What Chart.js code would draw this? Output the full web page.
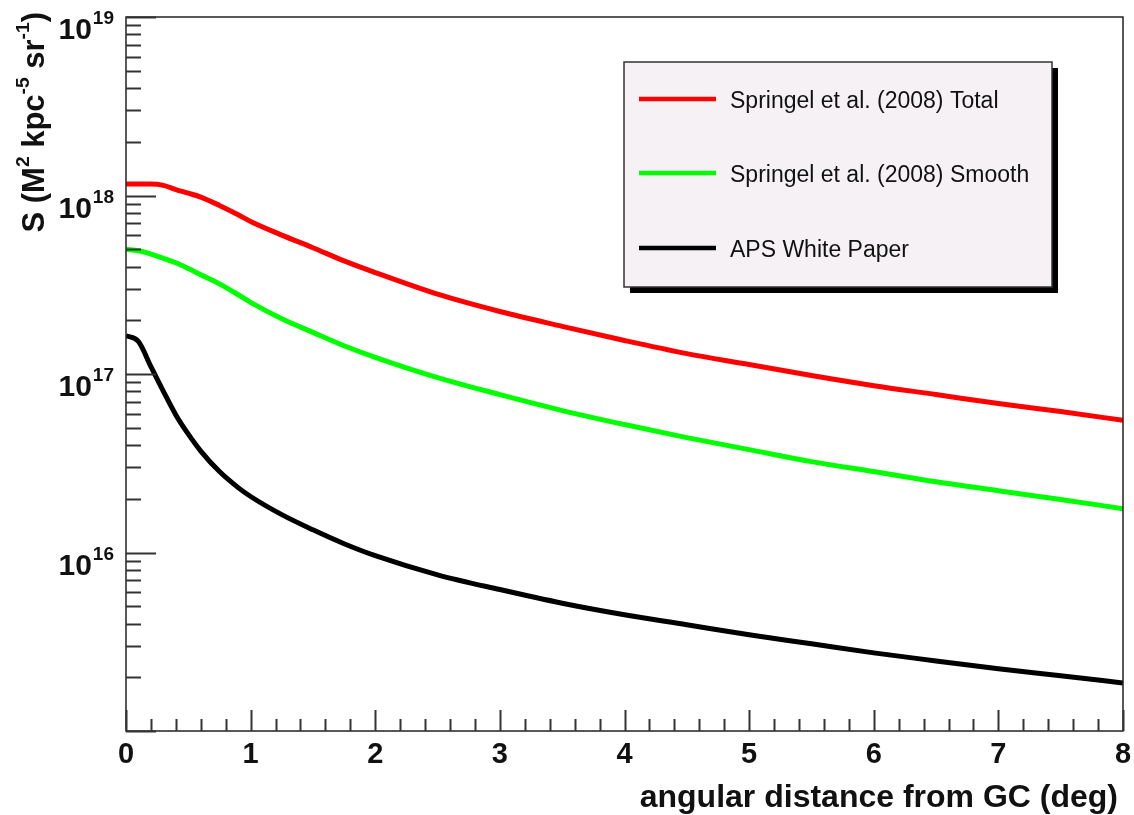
<!DOCTYPE html>
<html>
<head>
<meta charset="utf-8">
<script src="https://cdn.jsdelivr.net/npm/chart.js@4.4.1/dist/chart.umd.min.js"></script>
<style>
  html, body { margin: 0; padding: 0; background: #fff; }
  canvas { display: block; }
</style>
</head>
<body>
<canvas id="jfactor" width="1134" height="815"></canvas>
<script>
// angular distance from GC (deg)
const angle = [0, 0.1, 0.2, 0.3, 0.4, 0.5, 0.6, 0.75, 0.9, 1.0, 1.25, 1.5, 1.75, 2.0, 2.5, 3.0, 3.5, 4.0, 4.5, 5.0, 5.5, 6.0, 6.5, 7.0, 7.5, 8.0];

const springelTotal = [1.16e18, 1.16e18, 1.16e18, 1.14e18, 1.08e18, 1.03e18, 9.8e17, 8.8e17, 7.8e17, 7.15e17, 6.0e17, 5.1e17, 4.3e17, 3.7e17, 2.8e17, 2.24e17, 1.85e17, 1.54e17, 1.30e17, 1.13e17, 9.8e16, 8.6e16, 7.67e16, 6.83e16, 6.16e16, 5.5e16];
const springelSmooth = [5.0e17, 4.9e17, 4.7e17, 4.45e17, 4.2e17, 3.9e17, 3.6e17, 3.2e17, 2.78e17, 2.52e17, 2.04e17, 1.71e17, 1.44e17, 1.24e17, 9.55e16, 7.67e16, 6.24e16, 5.21e16, 4.40e16, 3.77e16, 3.23e16, 2.84e16, 2.49e16, 2.22e16, 1.98e16, 1.76e16];
const apsWhitePaper = [1.64e17, 1.52e17, 1.1e17, 8.0e16, 5.9e16, 4.6e16, 3.7e16, 2.84e16, 2.31e16, 2.06e16, 1.63e16, 1.34e16, 1.12e16, 9.6e15, 7.5e15, 6.2e15, 5.2e15, 4.48e15, 3.94e15, 3.46e15, 3.08e15, 2.74e15, 2.47e15, 2.23e15, 2.04e15, 1.86e15];

const xMajorTicks = [0, 1, 2, 3, 4, 5, 6, 7, 8];
const yDecades = [15, 16, 17, 18, 19];

const xTitle = 'angular distance from GC (deg)';
const FONT = '"Liberation Sans", Arial, Helvetica, sans-serif';

function toPoints(ys) {
    return angle.map((a, i) => ({ x: a, y: ys[i] }));
}

// draws text pieces, some of them as superscripts
function drawRich(ctx, parts, x, y, size) {
    let cx = x;
    parts.forEach(p => {
        let s = p.sup ? size * 0.62 : size;
        ctx.font = 'bold ' + s + 'px ' + FONT;
        ctx.fillText(p.t, cx, p.sup ? y - size * 0.5 : y);
        cx += ctx.measureText(p.t).width;
    });
    return cx - x;
}

function richWidth(ctx, parts, size) {
    let w = 0;
    parts.forEach(p => {
        let s = p.sup ? size * 0.62 : size;
        ctx.font = 'bold ' + s + 'px ' + FONT;
        w += ctx.measureText(p.t).width;
    });
    return w;
}

const rootFrame = {
    id: 'rootFrame',
    afterDatasetsDraw(chart) {
        const ctx = chart.ctx;
        const area = chart.chartArea;
        const xs = chart.scales.x;
        const ys = chart.scales.y;
        ctx.save();

        // frame
        ctx.strokeStyle = '#222';
        ctx.lineWidth = 1.5;
        ctx.strokeRect(area.left, area.top, area.right - area.left, area.bottom - area.top);

        // x ticks (inside)
        ctx.lineWidth = 2;
        ctx.strokeStyle = '#333';
        for (let v = 0; v <= 8.001; v += 0.2) {
            let px = Math.round(xs.getPixelForValue(v)) + 0.5;
            let major = Math.abs(v - Math.round(v)) < 0.01;
            ctx.beginPath();
            ctx.moveTo(px, area.bottom);
            ctx.lineTo(px, area.bottom - (major ? 21 : 12));
            ctx.stroke();
        }
        // y ticks (inside)
        yDecades.forEach(e => {
            for (let m = 1; m <= 9; m++) {
                let val = m * Math.pow(10, e);
                if (val > 1e19 * 1.0001) break;
                let py = Math.round(ys.getPixelForValue(val)) + 0.5;
                ctx.beginPath();
                ctx.moveTo(area.left, py);
                ctx.lineTo(area.left + (m == 1 ? 30 : 15), py);
                ctx.stroke();
            }
        });

        ctx.fillStyle = '#111';
        ctx.textBaseline = 'alphabetic';

        // x labels
        ctx.textAlign = 'center';
        ctx.font = 'bold 29px ' + FONT;
        xMajorTicks.forEach(v => {
            ctx.fillText(String(v), xs.getPixelForValue(v), area.bottom + 32);
        });

        // x title
        ctx.textAlign = 'right';
        ctx.font = 'bold 32px ' + FONT;
        ctx.fillText(xTitle, area.right - 5, area.bottom + 76);

        // y labels 10^n
        ctx.textAlign = 'left';
        yDecades.slice(1).forEach(e => {
            let py = ys.getPixelForValue(Math.pow(10, e));
            ctx.font = 'bold 30px ' + FONT;
            let w1 = ctx.measureText('10').width;
            ctx.font = 'bold 19px ' + FONT;
            let w2 = ctx.measureText(String(e)).width;
            let x0 = area.left - 13 - w1 - w2;
            ctx.font = 'bold 30px ' + FONT;
            ctx.fillText('10', x0, py + 22);
            ctx.font = 'bold 19px ' + FONT;
            ctx.fillText(String(e), x0 + w1 + 1, py + 7);
        });

        // y title
        const yParts = [
            { t: 'S (M' }, { t: '2', sup: true }, { t: ' kpc' }, { t: '-5', sup: true },
            { t: ' sr' }, { t: '-1', sup: true }, { t: ')' }
        ];
        ctx.save();
        ctx.translate(44, area.top - 5);
        ctx.rotate(-Math.PI / 2);
        let tw = richWidth(ctx, yParts, 31);
        drawRich(ctx, yParts, -tw, 0, 31);
        ctx.restore();

        // legend box with shadow
        let bx = 624, by = 62, bw = 428, bh = 225;
        ctx.fillStyle = '#000';
        ctx.fillRect(bx + 6, by + 6, bw, bh);
        ctx.fillStyle = '#f5f1f4';
        ctx.fillRect(bx, by, bw, bh);
        ctx.strokeStyle = '#333';
        ctx.lineWidth = 1.5;
        ctx.strokeRect(bx, by, bw, bh);

        const rowY = [99, 173, 248];
        chart.data.datasets.forEach((ds, i) => {
            ctx.strokeStyle = ds.borderColor;
            ctx.lineWidth = 4.5;
            ctx.beginPath();
            ctx.moveTo(639, rowY[i]);
            ctx.lineTo(716, rowY[i]);
            ctx.stroke();
            ctx.fillStyle = '#111';
            ctx.textAlign = 'left';
            ctx.textBaseline = 'middle';
            ctx.font = '23px ' + FONT;
            ctx.fillText(ds.label, 730, rowY[i] + 3);
        });

        ctx.restore();
    }
};

const ctx = document.getElementById('jfactor').getContext('2d');
const chart = new Chart(ctx, {
    type: 'line',
    data: {
        datasets: [{
            label: 'Springel et al. (2008) Total',
            data: toPoints(springelTotal),
            borderColor: '#ff0000',
        }, {
            label: 'Springel et al. (2008) Smooth',
            data: toPoints(springelSmooth),
            borderColor: '#00ff00',
        }, {
            label: 'APS White Paper',
            data: toPoints(apsWhitePaper),
            borderColor: '#000000',
        }]
    },
    options: {
        responsive: false,
        animation: false,
        layout: {
            padding: { left: 126, right: 11, top: 17, bottom: 84 }
        },
        elements: {
            line: { borderWidth: 5, cubicInterpolationMode: 'monotone', fill: false },
            point: { radius: 0 }
        },
        scales: {
            x: { type: 'linear', display: false, min: 0, max: 8 },
            y: { type: 'logarithmic', display: false, min: 1e15, max: 1e19 }
        },
        plugins: {
            legend: { display: false },
            tooltip: { enabled: false }
        }
    },
    plugins: [rootFrame]
});
</script>
</body>
</html>
